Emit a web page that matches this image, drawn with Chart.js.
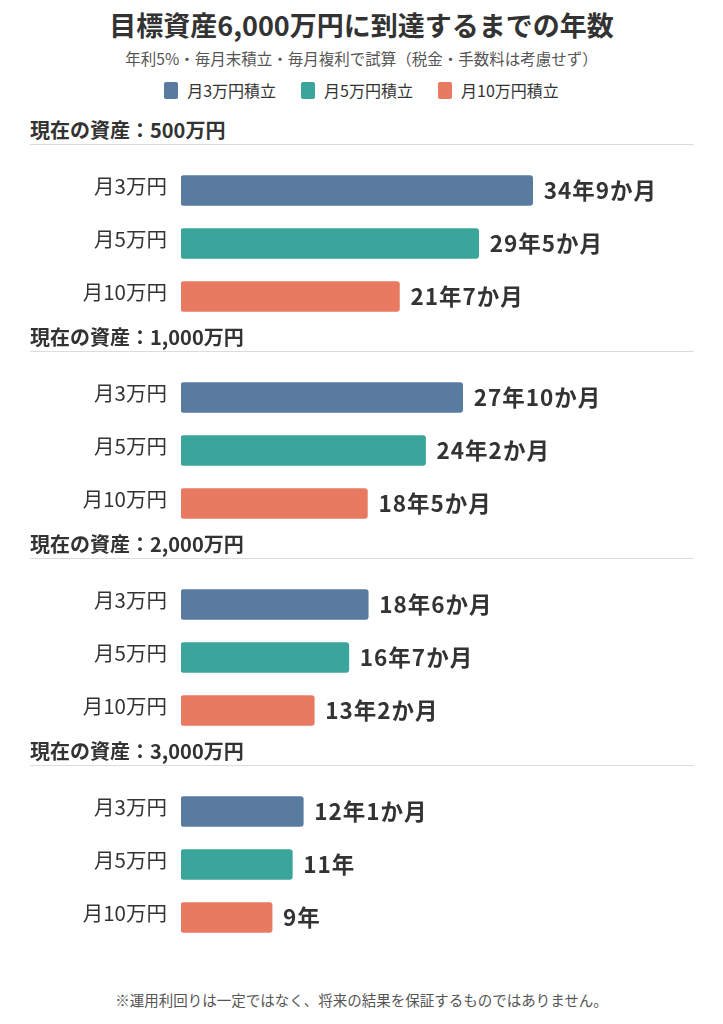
<!DOCTYPE html>
<html lang="ja">
<head>
<meta charset="utf-8">
<script src="https://cdn.jsdelivr.net/npm/chart.js@4.4.1/dist/chart.umd.min.js"></script>
<style>
  html, body { margin: 0; padding: 0; background: #fff; }
  body { width: 723px; height: 1024px; position: relative; overflow: hidden;
         font-family: "Noto Sans CJK JP", "Noto Sans", sans-serif; color: #333; }
  .abs { position: absolute; }
  #title { left: 0; width: 723px; top: 6px; text-align: center; font-size: 27px; font-weight: 700; line-height: 38px; color: #333; }
  #subtitle { left: 0; width: 723px; top: 47px; text-align: center; font-size: 15.5px; line-height: 22px; color: #555; }
  #legend { left: 0; width: 723px; top: 79px; display: flex; justify-content: center; gap: 25px; font-size: 16px; line-height: 22px; }
  .lg { display: flex; align-items: center; }
  .sw { width: 14px; height: 17px; border-radius: 2px; margin-right: 9px; }
  .hdr { left: 30px; font-size: 20px; font-weight: 700; line-height: 28px; color: #333; }
  .rule { left: 30px; width: 664px; height: 1px; background: #dcdcdc; }
  .cw { left: 0; width: 723px; height: 159px; }
  #footer { left: 0; width: 723px; top: 989px; text-align: center; font-size: 14.5px; line-height: 22px; color: #555; }
</style>
</head>
<body>
<div id="title" class="abs">目標資産6,000万円に到達するまでの年数</div>
<div id="subtitle" class="abs">年利5%・毎月末積立・毎月複利で試算（税金・手数料は考慮せず）</div>
<div id="legend" class="abs"></div>
<div id="groups"></div>
<div id="footer" class="abs">※運用利回りは一定ではなく、将来の結果を保証するものではありません。</div>
<script>
// ---- data ----
const groupTitles = ['現在の資産：500万円', '現在の資産：1,000万円', '現在の資産：2,000万円', '現在の資産：3,000万円'];
const categories = ['月3万円', '月5万円', '月10万円'];
const legendLabels = ['月3万円積立', '月5万円積立', '月10万円積立'];
const seriesColors = ['#5a7ba0', '#3aa69b', '#e77a60'];
// months needed to reach target, per group (月3万円, 月5万円, 月10万円)
const months500 = [34 * 12 + 9, 29 * 12 + 5, 21 * 12 + 7];
const months1000 = [27 * 12 + 10, 24 * 12 + 2, 18 * 12 + 5];
const months2000 = [18 * 12 + 6, 16 * 12 + 7, 13 * 12 + 2];
const months3000 = [12 * 12 + 1, 11 * 12 + 0, 9 * 12 + 0];
const groupMonths = [months500, months1000, months2000, months3000];

function fmt(m) {
  const y = Math.floor(m / 12), r = m % 12;
  return r ? `${y}年${r}か月` : `${y}年`;
}

// legend
const lg = document.getElementById('legend');
legendLabels.forEach((t, i) => {
  const d = document.createElement('div');
  d.className = 'lg';
  d.innerHTML = `<span class="sw" style="background:${seriesColors[i]}"></span><span>${t}</span>`;
  lg.appendChild(d);
});

Chart.defaults.font.family = '"Noto Sans CJK JP", "Noto Sans", sans-serif';
Chart.defaults.color = '#333';

const valueLabels = {
  id: 'valueLabels',
  afterDatasetsDraw(chart) {
    const ctx = chart.ctx;
    const meta = chart.getDatasetMeta(0);
    const labels = chart.data.datasets[0].valueText;
    ctx.save();
    ctx.font = '700 22.5px "Noto Sans CJK JP", "Noto Sans", sans-serif';
    if ('letterSpacing' in ctx) ctx.letterSpacing = '1px';
    ctx.fillStyle = '#333';
    ctx.textAlign = 'left';
    ctx.textBaseline = 'middle';
    meta.data.forEach((bar, i) => {
      ctx.fillText(labels[i], bar.x + 11, bar.y);
    });
    ctx.restore();
  }
};

const container = document.getElementById('groups');
const pitch = 207;
groupTitles.forEach((title, g) => {
  const h = document.createElement('div');
  h.className = 'abs hdr';
  h.style.top = (116 + g * pitch) + 'px';
  h.textContent = title;
  container.appendChild(h);
  const r = document.createElement('div');
  r.className = 'abs rule';
  r.style.top = (144 + g * pitch) + 'px';
  container.appendChild(r);
  const w = document.createElement('div');
  w.className = 'abs cw';
  w.style.top = (164 + g * pitch) + 'px';
  const c = document.createElement('canvas');
  c.width = 723; c.height = 159;
  c.style.width = '723px'; c.style.height = '159px';
  w.appendChild(c);
  container.appendChild(w);

  const months = groupMonths[g];
  new Chart(c, {
    type: 'bar',
    data: {
      labels: categories,
      datasets: [{
        data: months.map(m => m / 12),
        valueText: months.map(fmt),
        backgroundColor: seriesColors,
        borderRadius: 3,
        borderSkipped: false,
        barThickness: 30
      }]
    },
    options: {
      indexAxis: 'y',
      responsive: false,
      animation: false,
      events: [],
      layout: { padding: { left: 0, right: 36, top: 0, bottom: 0 } },
      plugins: { legend: { display: false }, tooltip: { enabled: false } },
      scales: {
        x: { display: false, min: 0, max: 50 },
        y: {
          grid: { display: false, drawTicks: false },
          border: { display: false },
          ticks: { font: { size: 20.5 }, color: '#333', padding: 14, labelOffset: -4 },
          afterFit(scale) { scale.width = 181; scale.paddingTop = 0; scale.paddingBottom = 0; }
        }
      }
    },
    plugins: [valueLabels]
  });
});
</script>
</body>
</html>
